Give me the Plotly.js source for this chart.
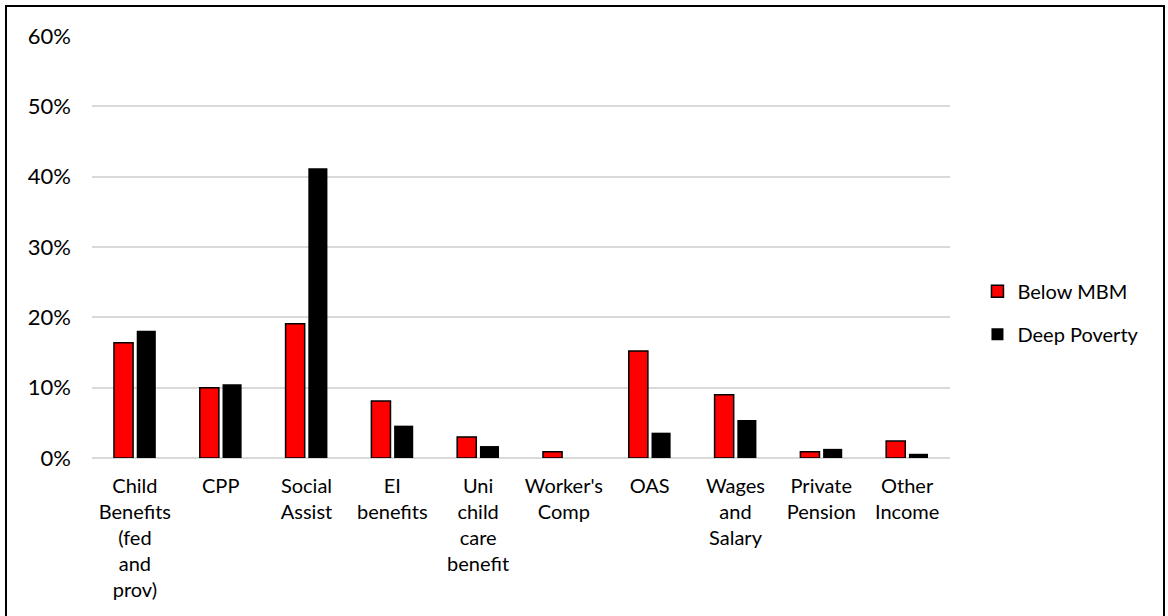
<!DOCTYPE html>
<html>
<head>
<meta charset="utf-8">
<script src="https://cdn.plot.ly/plotly-3.0.1.min.js"></script>
<style>
html,body{margin:0;padding:0;background:#fff;}
#wrap{position:relative;width:1168px;height:616px;overflow:hidden;}
#chart{position:absolute;left:0;top:0;width:1168px;height:616px;}
#frame{position:absolute;left:5px;top:5px;width:1156px;height:640px;border:2px solid #000;pointer-events:none;}
</style>
</head>
<body>
<div id="wrap"><div id="chart"></div><div id="frame"></div></div>
<script>
const categories = ["Child<br>Benefits<br>(fed<br>and<br>prov)", "CPP", "Social<br>Assist", "EI<br>benefits", "Uni<br>child<br>care<br>benefit", "Worker's<br>Comp", "OAS", "Wages<br>and<br>Salary", "Private<br>Pension", "Other<br>Income"];
const belowMBM = [0.164, 0.100, 0.191, 0.081, 0.030, 0.009, 0.152, 0.090, 0.009, 0.024];
const deepPoverty = [0.181, 0.105, 0.412, 0.046, 0.017, 0.0, 0.036, 0.054, 0.013, 0.006];
const yTicks = [0, 0.1, 0.2, 0.3, 0.4, 0.5, 0.6];
const yTickText = ["0%", "10%", "20%", "30%", "40%", "50%", "60%"];

const FONT = "Lato, 'Noto Sans', sans-serif";
const traces = [
  {type:"bar", name:"Below MBM", legendgroup:"a", x:categories, y:belowMBM,
   marker:{color:"#ff0000", line:{color:"#000", width:1.5}}},
  {type:"bar", name:"Deep Poverty", legendgroup:"b", x:categories, y:deepPoverty,
   marker:{color:"#000000", line:{color:"#000", width:0}}}
];
const layout = {
  width:1168, height:616,
  margin:{l:92, r:218, t:36, b:158},
  paper_bgcolor:"rgba(0,0,0,0)", plot_bgcolor:"#fff",
  barmode:"group", bargap:0.47, bargroupgap:0.16,
  font:{family:FONT, size:20, color:"#000"},
  showlegend:true,
  legend:{x:1.032, y:0.344, yanchor:"middle", xanchor:"left", font:{size:20, family:FONT}, tracegroupgap:14, itemwidth:30},
  xaxis:{type:"category", showgrid:false, showline:false, ticks:"", tickangle:0, ticklabelstandoff:14,
         tickfont:{size:20, family:FONT}, automargin:false},
  yaxis:{range:[0,0.6], tickvals:yTicks, ticktext:yTickText, showgrid:true,
         gridcolor:"#d9d9d9", gridwidth:2, zeroline:true, zerolinecolor:"#d9d9d9", zerolinewidth:2,
         showline:false, ticks:"", ticklen:0, ticklabelstandoff:20, tickfont:{size:22, family:FONT}, automargin:false}
};
Plotly.newPlot("chart", traces, layout, {displayModeBar:false, staticPlot:true});
</script>
</body>
</html>
